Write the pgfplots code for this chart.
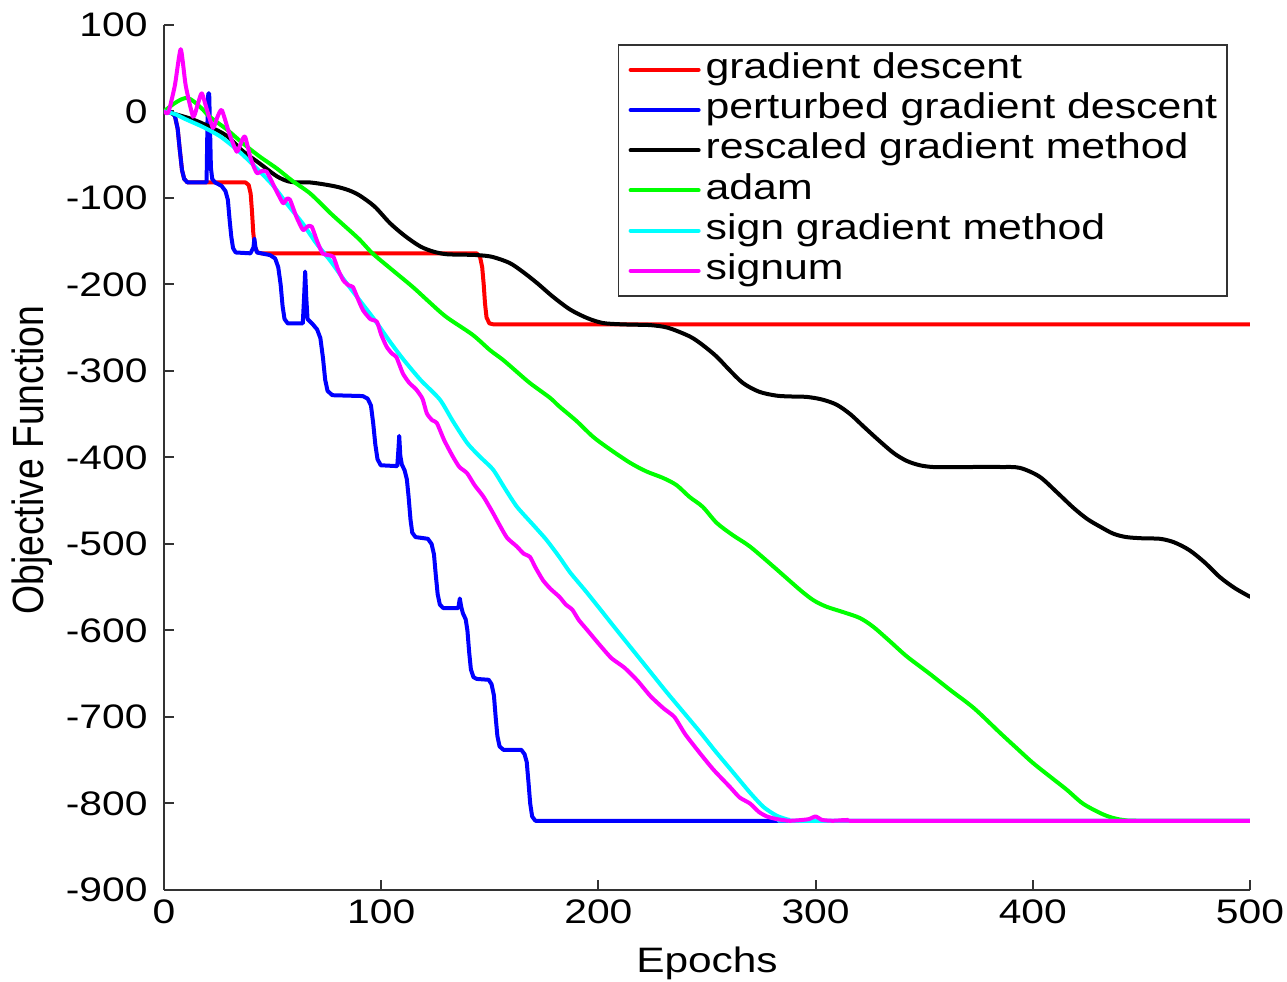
\documentclass[border=0pt]{standalone}
\usepackage{fontspec}
\setmainfont{Liberation Sans}[FakeStretch=1.2]
\newfontfamily\ylabfont{Liberation Sans}
\usepackage{pgfplots}
\pgfplotsset{compat=1.18}
\definecolor{cRed}{rgb}{1,0,0}
\definecolor{cBlue}{rgb}{0,0,1}
\definecolor{cGreen}{rgb}{0,1,0}
\definecolor{cCyan}{rgb}{0,1,1}
\definecolor{cMag}{rgb}{1,0,1}

\pgfplotstableread{
x y
0 0
3 -0.5
5 -5
6.3 -20
7.3 -45
8.3 -68
9.3 -78
10.8 -82
37.5 -82
39 -85
39.9 -95
40.5 -115
41.1 -140
41.8 -156
43 -163
45 -164
144 -164
145.5 -168
146.5 -180
147.2 -200
147.8 -222
148.5 -238
149.8 -245
151.5 -246
500 -246
}\gd

\pgfplotstableread{
x y
0 0
3 -0.5
5 -5
6.3 -20
7.3 -45
8.3 -68
9.3 -78
10.8 -82
19.6 -82
20.1 0
20.4 21
20.8 21
21.2 -20
21.6 -65
22.2 -78
23.5 -82
26.5 -86
28.3 -92
29.4 -102
30.2 -125
31 -145
31.8 -158
33 -163
39.8 -164
41.2 -157
41.6 -147
42.1 -157
42.8 -163
48.8 -166
51.2 -170
52.6 -180
53.7 -200
54.6 -225
55.5 -240
57 -245
63.9 -245
64.5 -215
65 -185
65.5 -215
66.1 -240
68.5 -246
70.5 -252
72 -262
73.2 -285
74.2 -310
75.3 -323
77.5 -328
91.5 -329
93.8 -332
95.3 -340
96.3 -360
97.3 -385
98.3 -402
99.8 -409
107.4 -410
107.9 -392
108.3 -375
108.8 -398
109.5 -408
110.8 -415
111.8 -425
112.6 -445
113.5 -472
114.3 -487
115.8 -492
121.5 -494
123.2 -500
124.3 -512
125.1 -535
126 -558
127 -570
128.5 -574
135.5 -574
136.2 -563
136.8 -572
137.6 -580
138.9 -587
139.7 -600
140.5 -625
141.3 -645
142.5 -654
144 -656
149.5 -657
150.8 -662
151.9 -675
152.7 -700
153.5 -722
154.5 -734
156.3 -738
164.5 -738
166 -743
167 -752
167.8 -775
168.6 -800
169.5 -815
171 -820
500 -820
}\pgd

\pgfplotstableread{
x y
0 0
5 -3
13 -9
21 -17.6
28.8 -28
36.4 -46
44 -60
52 -75
57.5 -81
62 -82
67 -82
73 -84
79.5 -87
85 -91
90 -97
97 -110
104 -129
111 -144
118 -156
124 -162
130 -165
137 -165.5
144 -166
151 -168
159 -175
165 -185
171.6 -198
179 -214
187 -229
195 -239
202 -244.5
210 -246
217 -246.5
224 -247
232 -250
242 -260
248 -270
254.5 -283.5
260 -298
266.6 -314
274 -324
282 -328.5
289 -329.5
296 -330
303 -333
309.7 -339
316 -350
322 -364
329 -380
336 -395
342 -404
348 -409
354 -411
362 -411
372 -411
385 -411
394 -412
403 -422
411 -440
418.6 -458
425 -471
431 -480
437 -488
443 -492
451 -493.5
458.6 -494
465 -498
472 -507
479 -521
486 -538
493 -551
500 -561
}\rgm

\pgfplotstableread{
x y
0 0
4 8
8 14
11 15.6
14 11
18 2
21 -6
29 -21
36.4 -37
44 -52
52 -66
59 -80
67.4 -95
76.4 -117
83 -132
90 -148
96 -164
105 -183
114.6 -203
122 -220
130 -237.6
142 -258
150 -275.7
156 -287
162 -300
168.5 -314
177.7 -331
182 -341
190 -358
197.5 -376
205 -390
214.5 -406
222 -416
229.8 -423.7
236 -432
242 -445.7
248 -457
254.5 -475.7
262 -490
269.8 -503
281 -527
292.8 -553
299 -565
305 -572.5
313 -579
320.4 -585.6
326.5 -595.6
334 -612
342 -630
352 -649
362 -668.8
373 -690
385 -718.5
393 -737
400 -753
408 -769
415.6 -784
423 -800
431 -811
436 -816
441.5 -819
450 -820
500 -820
}\adam

\pgfplotstableread{
x y
0 0
5 -3
10 -9
18 -18
26 -29
34 -45
41.6 -63
50 -85
57 -108
64 -130
70 -152
76.4 -172
83 -195
90 -218
97 -241
104 -266
110 -286
118 -310
127 -333
133 -358
139.5 -383
145 -398
151.5 -414
157 -436
162.5 -457
170 -478
176 -495
182 -515
187 -533
194 -554
200.7 -575
207 -595
215 -620
223 -645
231 -670
239 -694
247 -718
254 -740
262 -764
270 -788
276 -804
282 -814
288 -819
295 -820
500 -820
}\sgm

\pgfplotstableread{
x y
0 0
2 -1
5 30
7.7 72
10 30
13.4 -6
15.5 8
17.4 21
20 0
22.6 -19
24.5 -7
26.6 1.7
30 -25
33.5 -46.5
35.5 -36
37.3 -29
40 -55
42.7 -71
45 -69
47.3 -69.6
51 -88
54.8 -106
56.5 -101
58 -102
61 -122
64 -137
66 -133
68 -133
70.5 -150
73 -164
75.5 -166
78 -168
80 -182
82.5 -195
85 -201
87 -203
89.5 -218
91.7 -230
95 -240
98 -243
100 -258
102.5 -272
105 -280
107 -284
110 -303
113 -314
116 -321
119 -332
121 -349
123.5 -357
125.6 -360
129 -380
133 -399
136 -411
139.5 -418
143 -432
147 -445
151 -462
154.7 -479
158 -493
162.5 -503
165.5 -511
168.5 -515
171 -527
174.5 -542
178 -552
182 -561
185 -570
188 -576
191 -588
194.7 -599
200.7 -617
206 -632
212 -643
218 -658
224 -676
230 -690
235 -700
240 -720
246.8 -742
253 -761
260.6 -781
265 -793
269.8 -800
274 -810
277.6 -815
282 -818
288 -820
294 -819
297 -818
300 -815
303 -819
308 -820
315 -819
320 -820
500 -820
}\signum

\begin{document}
\begin{tikzpicture}
\useasboundingbox (-49.2pt,-27.6pt) rectangle (336.9pt,267pt);
\begin{axis}[
  at={(0pt,0pt)}, anchor=south west,
  scale only axis, width=325.8pt, height=259.5pt,
  xmin=0, xmax=500, ymin=-900, ymax=100,
  axis x line*=bottom, axis y line*=left,
  axis line style={color=black!80, line width=0.6pt},
  xtick={0,100,...,500}, ytick={-900,-800,...,100},
  tick align=inside, major tick length=3pt,
  tick style={color=black!80, line width=0.6pt},
  /pgf/number format/assume math mode=true,
  every tick label/.append style={font=\fontsize{10.2}{12}\selectfont},
  yticklabel style={xshift=-1.4pt},
  xticklabel style={yshift=0.6pt},
  xlabel={Epochs},
  ylabel={Objective Function},
  every axis x label/.style={at={(axis description cs:0.5,-0.0845)}, anchor=center, font=\fontsize{10.6}{12}\selectfont},
  every axis y label/.style={at={(axis description cs:-0.1215,0.497)}, rotate=90, yscale=1.17, anchor=center, font=\ylabfont\fontsize{11.2}{13}\selectfont},
  legend style={at={(0.9797,0.978)}, anchor=north east, draw=black!80, line width=0.45pt,
    inner xsep=3pt, inner ysep=1.5pt, row sep=0pt, column sep=1.5pt,
    font=\fontsize{10.7}{12}\selectfont,
    nodes={inner sep=0pt, text height=8.6pt, text depth=3.46pt}},
  legend cell align=left,
  legend image code/.code={\draw[#1, line width=1.2pt] (0pt,0pt) -- (20.4pt,0pt);},
  every axis plot/.append style={line width=1.2pt, line join=round, line cap=round},
]
\addplot[color=cRed] table {\gd};
\addlegendentry{gradient descent}
\addplot[color=cBlue] table {\pgd};
\addlegendentry{perturbed gradient descent}
\addplot[color=black, smooth, tension=0.5] table {\rgm};
\addlegendentry{rescaled gradient method}
\addplot[color=cGreen, smooth, tension=0.5] table {\adam};
\addlegendentry{adam}
\addplot[color=cCyan, smooth, tension=0.4] table {\sgm};
\addlegendentry{sign gradient method}
\addplot[color=cMag, smooth, tension=0.35] table {\signum};
\addlegendentry{signum}
\end{axis}
\end{tikzpicture}
\end{document}
